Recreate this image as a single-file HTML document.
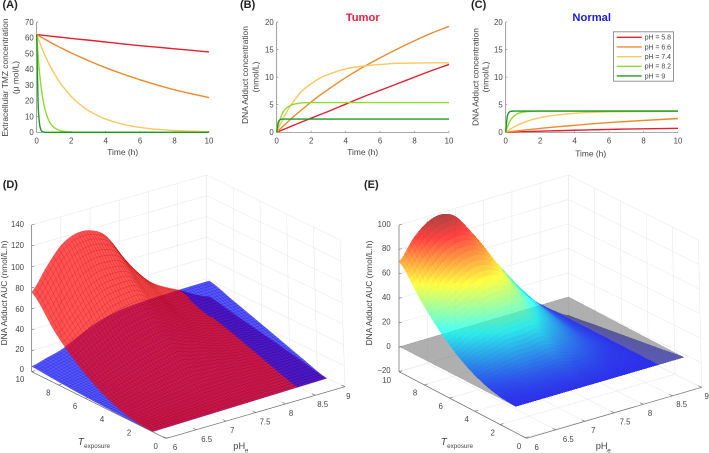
<!DOCTYPE html>
<html lang="en">
<head>
<meta charset="utf-8">
<title>TMZ and DNA adduct charts</title>
<style>
html,body{margin:0;padding:0;background:#fff;}
body{width:709px;height:453px;overflow:hidden;}
svg{display:block;filter:blur(0.35px);}
text{font-family:"Liberation Sans",sans-serif;fill:#444;}
</style>
</head>
<body>
<svg id="figure" xmlns="http://www.w3.org/2000/svg" width="709" height="453" viewBox="0 0 709 453">
<rect width="709" height="453" fill="#fff"/>
</svg>
<script>
// ---- Line chart data ----
const times=[0,0.1,0.2,0.3,0.4,0.5,0.75,1,1.5,2,2.5,3,4,5,6,7,8,9,10];
const legendLabels=["pH = 5.8","pH = 6.6","pH = 7.4","pH = 8.2","pH = 9"];
const lineColors=["#e3202e","#ee8a2d","#fcc75f","#8edb2f","#1e9a22"];
const timeTicks=[0,2,4,6,8,10];
const ticksA=[0,10,20,30,40,50,60,70];
const ticksBC=[0,5,10,15,20];

const extracellular58=[62,61.9,61.8,61.6,61.5,61.4,61.1,60.8,60.2,59.6,59,58.5,57.3,56.1,55,54,53,52,51];
const extracellular66=[62,61.4,60.7,60.1,59.5,58.9,57.4,55.9,53.1,50.4,47.9,45.5,41,37,33.3,30,27,24.4,22];
const extracellular74=[62,59,56.1,53.4,50.8,48.3,42.6,37.6,29.3,22.8,17.8,13.8,8.4,5.1,3.1,1.9,1.1,0.7,0.4];
const extracellular82=[62,46,34,25,18.7,13.8,6.5,3.1,0.7,0.15,0,0,0,0,0,0,0,0,0];
const extracellular90=[62,13.8,3.1,0.7,0.15,0,0,0,0,0,0,0,0,0,0,0,0,0,0];

const tumor58=[0,0.13,0.26,0.39,0.52,0.65,0.97,1.3,1.93,2.56,3.18,3.8,5.1,6.4,7.6,8.8,10,11.2,12.3];
const tumor66=[0,0.3,0.6,0.9,1.2,1.45,2.2,2.9,4.2,5.5,6.7,7.8,9.9,11.8,13.5,15.1,16.6,18,19.2];
const tumor74=[0,0.7,1.4,2,2.7,3.2,4.6,5.7,7.6,8.8,9.8,10.5,11.5,12,12.3,12.5,12.55,12.6,12.6];
const tumor82=[0,1.4,2.4,3.2,3.8,4.2,4.8,5.1,5.35,5.4,5.4,5.4,5.4,5.4,5.4,5.4,5.4,5.4,5.4];
const tumor90=[0,1.9,2.3,2.37,2.4,2.4,2.4,2.4,2.4,2.4,2.4,2.4,2.4,2.4,2.4,2.4,2.4,2.4,2.4];

const normal58=[0,0.01,0.02,0.03,0.04,0.05,0.08,0.1,0.15,0.2,0.24,0.28,0.37,0.45,0.52,0.58,0.63,0.67,0.72];
const normal66=[0,0.04,0.08,0.11,0.15,0.19,0.28,0.37,0.54,0.7,0.86,1,1.27,1.53,1.76,1.96,2.15,2.32,2.5];
const normal74=[0,0.22,0.43,0.62,0.81,0.98,1.38,1.72,2.26,2.65,2.94,3.15,3.45,3.62,3.71,3.75,3.78,3.8,3.8];
const normal82=[0,1,1.74,2.28,2.69,3.0,3.46,3.66,3.81,3.85,3.85,3.85,3.85,3.85,3.85,3.85,3.85,3.85,3.85];
const normal90=[0,3,3.65,3.81,3.84,3.85,3.85,3.85,3.85,3.85,3.85,3.85,3.85,3.85,3.85,3.85,3.85,3.85,3.85];

// ---- Surface data (rows: pHe, columns: Texposure) ----
const phGrid=[6,6.25,6.5,6.75,7,7.25,7.5,7.75,8,8.25,8.5,8.75,9];
const tGrid=[0,2,4,6,8,10];
const tumorAUC=[
[0,3,12,27,48,76],
[0,4,16,35,61,96],
[0,6,20,42,75,113],
[0,7,24,50,83,120],
[0,8,27,54,85,119],
[0,10,31,56,83,110],
[0,10,27,47,67,88],
[0,10,24,39,54,69],
[0,9,20,31,42,54],
[0,8,17,26,36,45],
[0,7,15,23,30,38],
[0,5,12,18,24,30],
[0,4.8,9.6,14.4,19,24]];
const normalAUC=[
[0,0.2,0.8,1.8,3.2,5],
[0,0.4,1.5,3.3,5.8,9],
[0,0.7,2.4,5,8.5,13],
[0,1.2,4,8,13.5,20],
[0,2,6,11.5,19,27],
[0,3,8.5,15,23,32],
[0,3.8,10.5,18,26,35],
[0,4.6,12,20,28,36.5],
[0,5.6,13,21,29,37.5],
[0,6.6,14,22,30,38],
[0,7,15,23,30.8,38.5],
[0,7.2,15.2,23.2,31,38.8],
[0,7.4,15.4,23.4,31.2,39]];
const differenceAUC=[
[0,2.8,11,25,45,69.5],
[0,3.6,15,32,56,85],
[0,5,18,37,66,95],
[0,6,21,43,72,98],
[0,6,21,45,72,93],
[0,7,23,43,64,78],
[0,5,17,32,47,60],
[0,4,12,22,33,43],
[0,2,7,13,20,26],
[0,1,3,5,8,11.5],
[0,0.2,0.4,0.6,0.8,1],
[0,-1.6,-3.2,-4.8,-6.4,-8],
[0,-3,-6,-9,-12,-15]];
const zeroPlane=[
[0,0,0,0,0,0],[0,0,0,0,0,0],[0,0,0,0,0,0],[0,0,0,0,0,0],[0,0,0,0,0,0],[0,0,0,0,0,0],[0,0,0,0,0,0],
[0,0,0,0,0,0],[0,0,0,0,0,0],[0,0,0,0,0,0],[0,0,0,0,0,0],[0,0,0,0,0,0],[0,0,0,0,0,0]];
const phTicks=[6,6.5,7,7.5,8,8.5,9];
const zTicksD=[0,20,40,60,80,100,120,140];
const zTicksE=[-20,0,20,40,60,80,100];

const NS="http://www.w3.org/2000/svg";
const fig=document.getElementById("figure");
function mk(tag,attrs,parent){
  const e=document.createElementNS(NS,tag);
  for(const k in attrs)e.setAttribute(k,attrs[k]);
  (parent||fig).appendChild(e);
  return e;
}
function txt(str,x,y,size,opts,parent){
  const o=Object.assign({x:x,y:y,"font-size":size},opts||{});
  const e=mk("text",o,parent);
  e.textContent=str;
  return e;
}
// monotone cubic path through the data points
function smoothPath(xs,ys){
  const n=xs.length,d=[],m=[];
  for(let i=0;i<n-1;i++)d.push((ys[i+1]-ys[i])/(xs[i+1]-xs[i]));
  m.push(d[0]);
  for(let i=1;i<n-1;i++){
    if(d[i-1]*d[i]<=0)m.push(0);
    else{
      const h0=xs[i]-xs[i-1],h1=xs[i+1]-xs[i];
      m.push(3*(h0+h1)/((2*h1+h0)/d[i-1]+(h1+2*h0)/d[i]));
    }
  }
  m.push(d[n-2]);
  let s="M"+xs[0].toFixed(2)+" "+ys[0].toFixed(2);
  for(let i=0;i<n-1;i++){
    const h=xs[i+1]-xs[i];
    s+="C"+(xs[i]+h/3).toFixed(2)+" "+(ys[i]+m[i]*h/3).toFixed(2)+" "+(xs[i+1]-h/3).toFixed(2)+" "+(ys[i+1]-m[i+1]*h/3).toFixed(2)+" "+xs[i+1].toFixed(2)+" "+ys[i+1].toFixed(2);
  }
  return s;
}

// ---- 2D panels ----
function linePanel(name,box,ymax,yTicks,series){
  const g=mk("g",{});
  
  
  const sx=v=>box.x0+(v/10)*(box.x1-box.x0);
  const sy=v=>box.y0-(v/ymax)*(box.y0-box.y1);
  const yAxis=mk("line",{x1:box.x0,x2:box.x0,y1:box.y0,y2:box.y1,stroke:"#777","stroke-width":0.7},g);
  
  
  const xAxis=mk("line",{x1:box.x0,x2:box.x1,y1:box.y0,y2:box.y0,stroke:"#777","stroke-width":0.7},g);
  
  
  timeTicks.forEach(t=>{
    const tk=mk("line",{x1:sx(t),x2:sx(t),y1:box.y0,y2:box.y0-1.6,stroke:"#777","stroke-width":0.6},g);
    
    
    const lb=txt(String(t),sx(t),143.6,7.8,{"text-anchor":"middle"},g);
    
    
  });
  yTicks.forEach(v=>{
    const tk=mk("line",{x1:box.x0,x2:box.x0+1.6,y1:sy(v),y2:sy(v),stroke:"#777","stroke-width":0.6},g);
    
    
    const lb=txt(String(v),box.x0-3,sy(v)+2.8,7.8,{"text-anchor":"end"},g);
    
    
  });
  series.forEach((vals,i)=>{
    const d=smoothPath(times.map(sx),vals.map(sy));
    const pl=mk("path",{d:d,fill:"none",stroke:lineColors[i],"stroke-width":1.4,"stroke-linejoin":"round"},g);
    
    
  });
  return g;
}
const gA=linePanel("panel-a",{x0:36.7,x1:209,y0:132.3,y1:22},70,ticksA,[extracellular58,extracellular66,extracellular74,extracellular82,extracellular90]);
const gB=linePanel("panel-b",{x0:276.7,x1:449,y0:132.3,y1:22},20,ticksBC,[tumor58,tumor66,tumor74,tumor82,tumor90]);
const gC=linePanel("panel-c",{x0:505.7,x1:678,y0:132.3,y1:22},20,ticksBC,[normal58,normal66,normal74,normal82,normal90]);

function rotLabel(str,x,y,name){
  const e=txt(str,x,y,8.4,{"text-anchor":"middle",transform:"rotate(-90 "+x+" "+y+")"});
  
  
  return e;
}
rotLabel("Extracellular TMZ concentration",8,77.5,"panel-a-y-axis-title");
const muLabel=rotLabel("(μ mol/L)",18.5,77.5,"panel-a-y-axis-unit");
rotLabel("DNA Adduct concentration",248,75,"panel-b-y-axis-title");
rotLabel("(nmol/L)",258.5,77,"panel-b-y-axis-unit");
rotLabel("DNA Adduct concentration",478.5,77,"panel-c-y-axis-title");
rotLabel("(nmol/L)",488.5,77,"panel-c-y-axis-unit");

const t1=txt("Time (h)",122.7,155,8.4,{"text-anchor":"middle"});


const t2=txt("Time (h)",362.7,155,8.4,{"text-anchor":"middle"});


const t3=txt("Time (h)",590.7,156.5,8.4,{"text-anchor":"middle"});



const tt=txt("Tumor",362.7,20.8,11.2,{"text-anchor":"middle","font-weight":"bold",style:"fill:#e8203c"});


const tn=txt("Normal",591.7,20.8,11.2,{"text-anchor":"middle","font-weight":"bold",style:"fill:#1c1cdc"});



const panelLetters=[["(A)",2.5,8.2],["(B)",240,8.2],["(C)",471,8.2],["(D)",2.7,188],["(E)",364,188]];
panelLetters.forEach(p=>{
  const e=txt(p[0],p[1],p[2],11,{"font-weight":"bold",style:"fill:#222"});
  
  
});

// legend
const lg=mk("g",{});


const lgBox=mk("rect",{x:613.5,y:31.8,width:60,height:49.4,fill:"#fff",stroke:"#8a8a8a","stroke-width":0.9},lg);


legendLabels.forEach((s,i)=>{
  const y=37.3+i*9.67;
  const ln=mk("line",{x1:616.7,x2:641.7,y1:y,y2:y,stroke:lineColors[i],"stroke-width":1.4},lg);
  
  
  const lb=txt(s,644.7,y+2.4,6.9,{},lg);
  
  
});

// ---- 3D panels ----
function cr(a,b,c,d,s){return 0.5*((2*b)+(-a+c)*s+(2*a-5*b+4*c-d)*s*s+(-a+3*b-3*c+d)*s*s*s);}
function sampleTable(tb,ph,t){
  const nI=phGrid.length,nJ=tGrid.length;
  const fi=(ph-phGrid[0])/(phGrid[nI-1]-phGrid[0])*(nI-1);
  const fj=(t-tGrid[0])/(tGrid[nJ-1]-tGrid[0])*(nJ-1);
  const i=Math.min(Math.floor(fi),nI-2),j=Math.min(Math.floor(fj),nJ-2);
  const si=fi-i,sj=fj-j;
  const row=r=>{
    const R=tb[Math.max(0,Math.min(nI-1,r))];
    const g=k=>R[Math.max(0,Math.min(nJ-1,k))];
    return cr(g(j-1),g(j),g(j+1),g(j+2),sj);
  };
  return cr(row(i-1),row(i),row(i+1),row(i+2),si);
}
function lerp(a,b,s){return [a[0]+(b[0]-a[0])*s,a[1]+(b[1]-a[1])*s];}
function jet(v){
  const c=x=>Math.max(0,Math.min(1,x));
  return [c(1.5-Math.abs(4*v-3)),c(1.5-Math.abs(4*v-2)),c(1.5-Math.abs(4*v-1))].map(x=>Math.round(x*255));
}
function panel3D(P){
  const g=mk("g",{});
  
  
  const R=p=>[P.ox+p[0]/3,P.oy+p[1]/3];
  const W=P.walls;
  const gridStyle={stroke:"#e6e6e6","stroke-width":0.5};
  const seg=(a,b,nm,style)=>{
    const A=R(a),B=R(b);
    const e=mk("line",Object.assign({x1:A[0].toFixed(2),y1:A[1].toFixed(2),x2:B[0].toFixed(2),y2:B[1].toFixed(2)},style),g);
    
    
    return e;
  };
  const zf=z=>(z-P.zTicks[0])/(P.zTicks[P.zTicks.length-1]-P.zTicks[0]);
  const phf=p=>(p-6)/3;
  // z gridlines on both back walls
  P.zTicks.forEach(z=>{
    const s=zf(z);
    const a=lerp(W.lb,W.lt,s),b=lerp(W.bb,W.bt,s),c=lerp(W.rb,W.rt,s);
    seg(a,b,'left-wall-z-gridline',gridStyle);
    seg(b,c,'right-wall-z-gridline',gridStyle);
  });
  phTicks.forEach(p=>{
    const s=phf(p);
    seg(lerp(W.lb,W.bb,s),lerp(W.lt,W.bt,s),'back-wall-ph-gridline',gridStyle);
    seg(lerp(W.ft,W.rb,s),lerp(W.lb,W.bb,s),'floor-ph-gridline',gridStyle);
  });
  timeTicks.forEach(t=>{
    const s=t/10;
    seg(lerp(W.rb,W.bb,s),lerp(W.rt,W.bt,s),'right-wall-t-gridline',gridStyle);
    seg(lerp(W.ft,W.lb,s),lerp(W.rb,W.bb,s),'floor-t-gridline',gridStyle);
  });

  // surfaces
  const C=P.corners;
  const project=(ph,t,z)=>{
    const u=phf(ph),v=t/10;
    const a=lerp(C.p00,C.p10,u),b=lerp(C.p01,C.p11,u),m=lerp(a,b,v);
    const q=R([m[0],m[1]-z*P.zScale]);
    return q[0].toFixed(2)+","+q[1].toFixed(2);
  };
  const nP=P.nPh,nT=P.nT;
  const surfaces=P.surfaces.map(S=>{
    const zz=[];
    for(let i=0;i<=nP;i++){
      const col=[];
      for(let j=0;j<=nT;j++)col.push(sampleTable(S.table,6+3*i/nP,10*j/nT));
      zz.push(col);
    }
    return {S:S,zz:zz};
  });
  for(let i=nP-1;i>=0;i--){
    for(let j=nT-1;j>=0;j--){
      const cells=surfaces.map(o=>{
        const z=o.zz;
        return {o:o,m:(z[i][j]+z[i+1][j]+z[i][j+1]+z[i+1][j+1])/4};
      });
      cells.sort((a,b)=>a.m-b.m);
      cells.forEach(cell=>{
        const o=cell.o,z=o.zz,S=o.S;
        const ph0=6+3*i/nP,ph1=6+3*(i+1)/nP,t0=10*j/nT,t1=10*(j+1)/nT;
        const pts=[project(ph0,t0,z[i][j]),project(ph1,t0,z[i+1][j]),project(ph1,t1,z[i+1][j+1]),project(ph0,t1,z[i][j+1])].join(" ");
        const fill=S.color?S.color:(()=>{const c=jet((cell.m-P.cMin)/(P.cMax-P.cMin));return "rgb("+c[0]+","+c[1]+","+c[2]+")";})();
        const attrs={points:pts,fill:fill,"fill-opacity":S.alpha};
        if(S.edge){attrs.stroke=S.edge;attrs["stroke-width"]=0.35;attrs["stroke-opacity"]=S.edgeAlpha;}
        else{attrs["shape-rendering"]="crispEdges";}
        const e=mk("polygon",attrs,g);
        
        
      });
    }
  }

  // axes
  const axisStyle={stroke:"#6a6a6a","stroke-width":0.7};
  seg(W.lb,W.lt,'z-axis',axisStyle);
  seg(W.lb,W.ft,'t-exposure-axis',axisStyle);
  seg(W.fp,W.rb,'ph-axis',axisStyle);
  const tickStyle={stroke:"#6a6a6a","stroke-width":0.6};
  P.zTicks.forEach((z,k)=>{
    const a=lerp(W.lb,W.lt,zf(z));
    seg(a,[a[0]+8,a[1]-2.4],'z-tick',tickStyle);
    const q=R(P.zLabel(k));
    const e=txt(String(z).replace('-','−'),q[0],q[1]+2.8,7.8,{"text-anchor":"end"},g);
    
    
  });
  phTicks.forEach((p,k)=>{
    const a=lerp(W.fp,W.rb,phf(p));
    seg(a,[a[0]-10,a[1]-4.8],'ph-tick',tickStyle);
    const q=R(P.phLabel(k));
    const e=txt(String(p),q[0],q[1]+2.8,7.8,{"text-anchor":"middle"},g);
    
    
  });
  timeTicks.forEach((t,k)=>{
    const a=lerp(W.ft,W.lb,t/10);
    seg(a,[a[0]+10,a[1]-2.8],'t-tick',tickStyle);
    const q=R(P.tLabel(k));
    const e=txt(String(t),q[0],q[1]+2.8,7.8,{"text-anchor":"middle"},g);
    
    
  });
  const zt=rotLabel("DNA Adduct AUC (nmol/L.h)",P.zTitleX,P.zTitleY,P.name+'-z-axis-title');
  g.appendChild(zt);
  const T=txt("T",P.tTitleX,445,10,{"font-style":"italic"},g);
  
  
  const Ts=txt("exposure",P.tTitleX+6.4,448,6.3,{},g);
  
  
  const H=txt("pH",P.phTitleX,449,9.3,{},g);
  
  
  const Hs=txt("e",P.phTitleX+11.6,452.4,6.3,{},g);
  
  
}
const labelsDz=[[72,598],[72,537],[72,478],[72,417],[72,355],[72,292],[72,225],[72,162]];
const labelsDph=[[525,832],[620,808],[697,780],[795,755],[873,730],[968,703],[1045,678]];
const labelsDt=[[467,828],[387,788],[306,748],[225,708],[145,668],[60,628]];
panel3D({
  name:"panel-d",ox:0,oy:170,zScale:3.14,nPh:66,nT:44,
  zTicks:zTicksD,cMin:0,cMax:1,
  walls:{lb:[95,605],lt:[95,165],bb:[620,450],bt:[620,15],rb:[1035,650],rt:[1020,210],ft:[497,805],fp:[500,805]},
  corners:{p00:[458,785],p10:[980,625],p01:[95,605],p11:[628,455]},
  surfaces:[
    {name:"normal-surface",table:normalAUC,color:"rgb(0,0,255)",alpha:0.66,edge:"#0000b0",edgeAlpha:0.4},
    {name:"tumor-surface",table:tumorAUC,color:"rgb(255,0,0)",alpha:0.68,edge:"#b00000",edgeAlpha:0.42}
  ],
  zLabel:k=>labelsDz[k],phLabel:k=>labelsDph[k],tLabel:k=>labelsDt[k],
  zTitleX:6.8,zTitleY:293,tTitleX:77.7,phTitleX:233.3
});
const labelsEz=[[122,600],[122,528],[122,455],[122,382],[122,308],[122,235],[122,162]];
const labelsEph=[[560,832],[655,808],[730,780],[825,755],[900,730],[995,703],[1070,678]];
const labelsEt=[[507,828],[428,788],[350,748],[272,708],[195,668],[110,630]];
panel3D({
  name:"panel-e",ox:350,oy:170,zScale:3.67,nPh:66,nT:44,
  zTicks:zTicksE,cMin:-15,cMax:100,
  walls:{lb:[147,605],lt:[147,165],bb:[655,455],bt:[655,15],rb:[1055,652],rt:[1045,210],ft:[526,803],fp:[530,805]},
  corners:{p00:[497,710],p10:[1003,562],p01:[147,530],p11:[655,380]},
  surfaces:[
    {name:"zero-plane",table:zeroPlane,color:"rgb(110,110,110)",alpha:0.55},
    {name:"difference-surface",table:differenceAUC,alpha:0.74}
  ],
  zLabel:k=>labelsEz[k],phLabel:k=>labelsEph[k],tLabel:k=>labelsEt[k],
  zTitleX:372,zTitleY:293,tTitleX:440.7,phTitleX:595.7
});
</script>
</body>
</html>
